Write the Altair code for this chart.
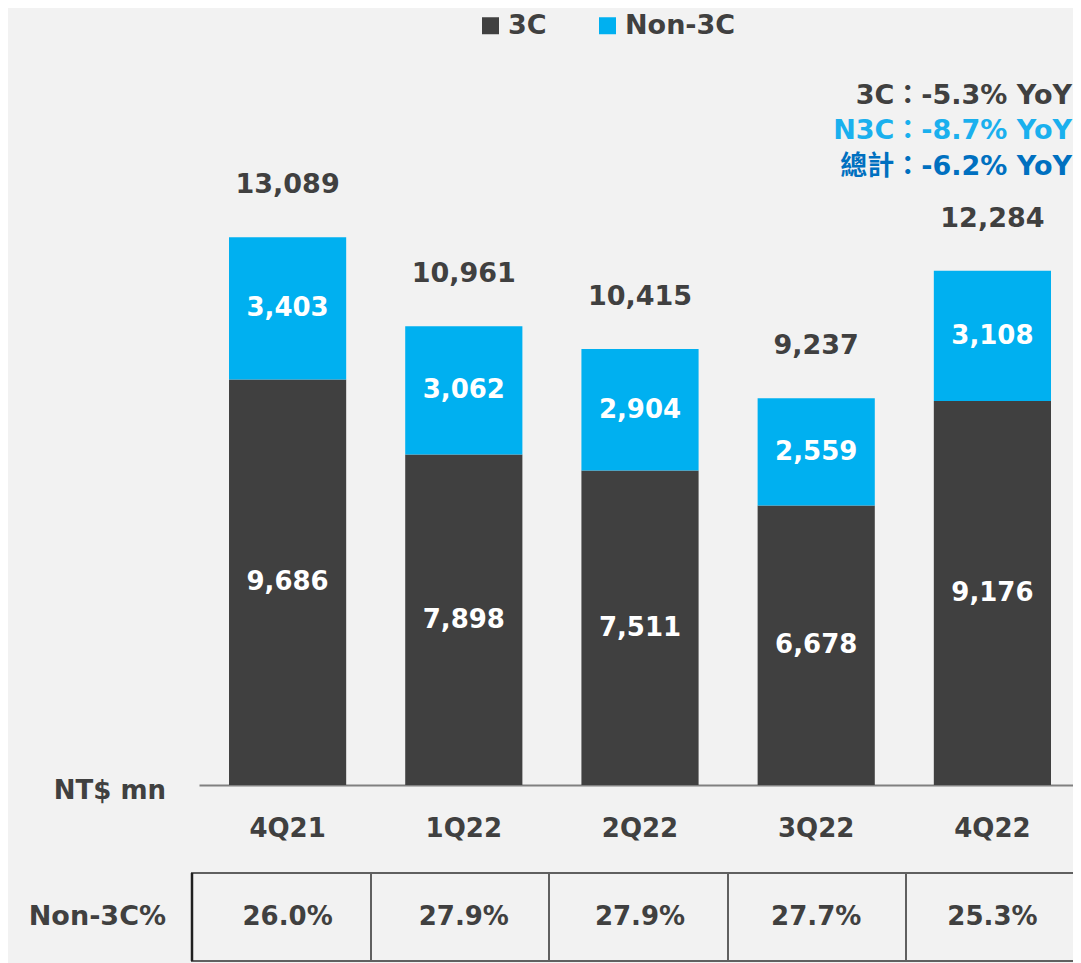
import altair as alt
import pandas as pd

# ---- data ----
categories = ["4Q21", "1Q22", "2Q22", "3Q22", "4Q22"]
c3_values = [9686, 7898, 7511, 6678, 9176]
n3c_values = [3403, 3062, 2904, 2559, 3108]
totals = [13089, 10961, 10415, 9237, 12284]
non3c_pct = ["26.0%", "27.9%", "27.9%", "27.7%", "25.3%"]
series_names = ["3C", "Non-3C"]
yoy_3c = "3C：-5.3% YoY"
yoy_n3c = "N3C：-8.7%  YoY"
yoy_total = "總計：-6.2% YoY"
unit_label = "NT$ mn"
table_label = "Non-3C%"

FONT = "DejaVu Sans, Noto Sans CJK TC"
DARK = "#404040"
BLUE = "#00B0F0"
NAVY = "#0070C0"

rows = []
for i, c in enumerate(categories):
    rows.append({"cat": c, "series": series_names[0], "value": c3_values[i],
                 "mid": c3_values[i] / 2, "ord": 0})
    rows.append({"cat": c, "series": series_names[1], "value": n3c_values[i],
                 "mid": c3_values[i] + n3c_values[i] / 2, "ord": 1})
long_df = pd.DataFrame(rows)
wide_df = pd.DataFrame({"cat": categories, "total": totals, "pct": non3c_pct})
one = pd.DataFrame({"a": [0]})

W = 874
xscale = alt.Scale(domain=categories, paddingInner=0.335, paddingOuter=0.1476, align=0.577)
yscale = alt.Scale(domain=[0, 14000])

x_enc = alt.X("cat:N", sort=categories, scale=xscale,
              axis=alt.Axis(title=None, labelAngle=0, labelFont=FONT, labelFontSize=26,
                            labelFontWeight="bold", labelColor=DARK, labelPadding=30,
                            ticks=False, domainColor="#808080", domainWidth=2, grid=False))

bars = alt.Chart(long_df).mark_bar().encode(
    x=x_enc,
    y=alt.Y("value:Q", stack="zero", scale=yscale, axis=None),
    color=alt.Color("series:N", scale=alt.Scale(domain=series_names, range=[DARK, BLUE]),
                    legend=alt.Legend(orient="none", legendX=278, legendY=-187,
                                      direction="horizontal", title=None,
                                      symbolType="square", symbolSize=289,
                                      symbolStrokeWidth=0, symbolOpacity=1,
                                      labelFont=FONT, labelFontSize=27,
                                      labelFontWeight="bold", labelColor=DARK,
                                      labelOffset=4, columnPadding=47)),
    order=alt.Order("ord:Q"),
)

seg_text = alt.Chart(long_df).mark_text(
    font=FONT, fontSize=26, fontWeight="bold", color="white", baseline="middle"
).encode(
    x=alt.X("cat:N", sort=categories, scale=xscale),
    y=alt.Y("mid:Q", scale=yscale),
    text=alt.Text("value:Q", format=","),
)

total_text = alt.Chart(wide_df).mark_text(
    font=FONT, fontSize=27, fontWeight="bold", color=DARK, baseline="middle", dy=-52
).encode(
    x=alt.X("cat:N", sort=categories, scale=xscale),
    y=alt.Y("total:Q", scale=yscale),
    text=alt.Text("total:Q", format=","),
)

pct_text = alt.Chart(wide_df).mark_text(
    font=FONT, fontSize=26, fontWeight="bold", color=DARK, baseline="middle"
).encode(
    x=alt.X("cat:N", sort=categories, scale=xscale),
    y=alt.value(718),
    text="pct:N",
)


def static_text(txt, x, y, color=DARK, size=26, align="right"):
    return alt.Chart(one).mark_text(
        font=FONT, fontSize=size, fontWeight="bold", color=color,
        baseline="middle", align=align
    ).encode(x=alt.value(x), y=alt.value(y), text=alt.value(txt))


texts = [
    static_text(unit_label, -33, 592),
    static_text(table_label, -33, 718, size=27),
    static_text(yoy_3c, 873, -103, size=27),
    static_text(yoy_n3c, 873, -68, color="#1AB0EE", size=27),
    static_text(yoy_total, 873, -32, color=NAVY, size=27),
]


def hrule(x1, x2, y, color="#606060", w=2):
    return alt.Chart(one).mark_rule(color=color, strokeWidth=w).encode(
        x=alt.value(x1), x2=alt.value(x2), y=alt.value(y))


def vrule(x, y1, y2, color="#606060", w=2):
    return alt.Chart(one).mark_rule(color=color, strokeWidth=w).encode(
        x=alt.value(x), y=alt.value(y1), y2=alt.value(y2))


frame = [
    hrule(-8, W, 674),
    hrule(-8, W, 762),
    vrule(-7, 674, 762, color="#202020", w=2.5),
    vrule(172, 674, 762),
    vrule(350, 674, 762),
    vrule(529, 674, 762),
    vrule(707, 674, 762),
]

chart = alt.layer(bars, seg_text, total_text, pct_text, *texts, *frame).properties(
    width=W, height=586,
    padding={"left": 191, "top": 191, "right": 0, "bottom": 178},
    autosize=alt.AutoSizeParams(type="none"),
    background="#F2F2F2",
).configure_view(stroke=None)

chart.save("out.html", embed_options={"renderer": "svg", "actions": False})
